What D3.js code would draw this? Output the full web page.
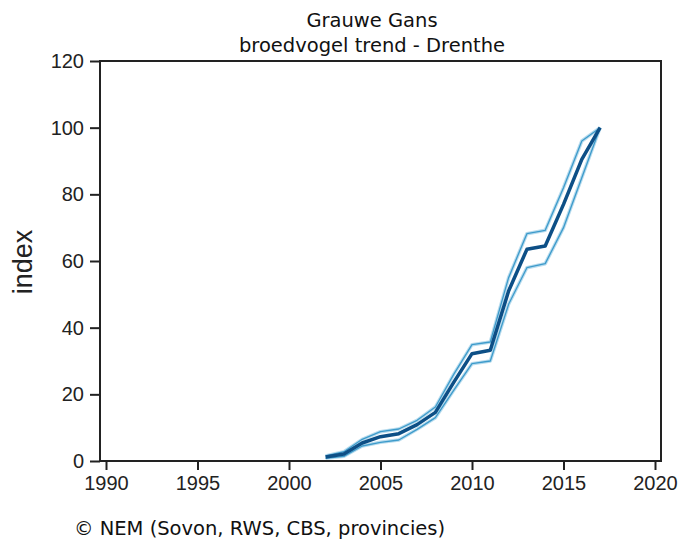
<!DOCTYPE html>
<html>
<head>
<meta charset="utf-8">
<script src="https://cdn.jsdelivr.net/npm/d3@7"></script>
<style>
  body { margin: 0; background: #fff; }
  svg { display: block; }
</style>
</head>
<body>
<div id="chart"></div>
<script>
// index values
const years = [2002, 2003, 2004, 2005, 2006, 2007, 2008, 2009, 2010, 2011, 2012, 2013, 2014, 2015, 2016, 2017]
const trend = [1.2, 2.1, 5.4, 7.3, 8.2, 10.9, 14.6, 23.6, 32.2, 33.2, 51, 63.5, 64.5, 77, 90.5, 100]
const upper = [1.5, 2.8, 6.5, 8.8, 9.6, 12.2, 16.2, 26, 34.9, 35.7, 55, 68.2, 69.2, 82, 96, 100]
const lower = [0.8, 1.4, 4.5, 5.6, 6.3, 9.5, 13, 21.2, 29.2, 30, 47, 58, 59.2, 70, 85, 100]
const xTicks = [1990, 1995, 2000, 2005, 2010, 2015, 2020]
const yTicks = [0, 20, 40, 60, 80, 100, 120]
const titleLines = ['Grauwe Gans', 'broedvogel trend - Drenthe']
const footer = '\u00a9 NEM (Sovon, RWS, CBS, provincies)'

const width = 680, height = 542
const box = { left: 100, right: 661, top: 61, bottom: 461 }

const svg = d3.select('#chart')
    .append('svg')
    .attr('width', width)
    .attr('height', height)

const x = d3.scaleLinear().domain([1990, 2020]).range([106, 655])
const y = d3.scaleLinear().domain([0, 120]).range([box.bottom, box.top])

// plot frame
svg.append('rect')
    .attr('x', box.left)
    .attr('y', box.top)
    .attr('width', box.right - box.left)
    .attr('height', box.bottom - box.top)
    .attr('fill', 'none')
    .attr('stroke', '#222')
    .attr('stroke-width', 2)

const tickFont = '"Liberation Sans", Arial, sans-serif'

const xAxis = svg.append('g')
    .attr('transform', `translate(0,${box.bottom})`)
    .call(d3.axisBottom(x).tickValues(xTicks).tickFormat(d3.format('d')).tickSize(9).tickPadding(6))
xAxis.select('.domain').remove()
xAxis.selectAll('line').attr('stroke', '#222').attr('stroke-width', 2)
xAxis.selectAll('text').attr('font-family', tickFont).attr('font-size', 20).attr('fill', '#222')

const yAxis = svg.append('g')
    .attr('transform', `translate(${box.left},0)`)
    .call(d3.axisLeft(y).tickValues(yTicks).tickSize(10).tickPadding(6))
yAxis.select('.domain').remove()
yAxis.selectAll('line').attr('stroke', '#222').attr('stroke-width', 2)
yAxis.selectAll('text').attr('font-family', tickFont).attr('font-size', 20).attr('fill', '#222')

svg.append('text')
    .attr('transform', `translate(32,262) rotate(-90)`)
    .attr('text-anchor', 'middle')
    .attr('font-family', tickFont)
    .attr('font-size', 27)
    .attr('fill', '#222')
    .text('index')

const line = d3.line()
    .x((d, i) => x(years[i]))
    .y(d => y(d))

;[upper, lower].forEach(band => {
    svg.append('path')
        .datum(band)
        .attr('d', line)
        .attr('fill', 'none')
        .attr('stroke', '#b9dcee')
        .attr('stroke-width', 3.5)
        .attr('stroke-linejoin', 'round')
    svg.append('path')
        .datum(band)
        .attr('d', line)
        .attr('fill', 'none')
        .attr('stroke', '#3d9bcb')
        .attr('stroke-width', 1.3)
        .attr('stroke-linejoin', 'round')
})

svg.append('path')
    .datum(trend)
    .attr('d', line)
    .attr('fill', 'none')
    .attr('stroke', '#0d4f86')
    .attr('stroke-width', 3.5)
    .attr('stroke-linejoin', 'round')

const labelFont = '"DejaVu Sans", Verdana, sans-serif'

svg.selectAll('.title')
    .data(titleLines)
    .enter()
    .append('text')
    .attr('class', 'title')
    .attr('x', 372)
    .attr('y', (d, i) => 27 + i * 24.5)
    .attr('text-anchor', 'middle')
    .attr('font-family', labelFont)
    .attr('font-size', 19.5)
    .attr('fill', '#111')
    .text(d => d)

svg.append('text')
    .attr('x', 74)
    .attr('y', 535)
    .attr('font-family', labelFont)
    .attr('font-size', 19.5)
    .attr('fill', '#111')
    .text(footer)
</script>
</body>
</html>
